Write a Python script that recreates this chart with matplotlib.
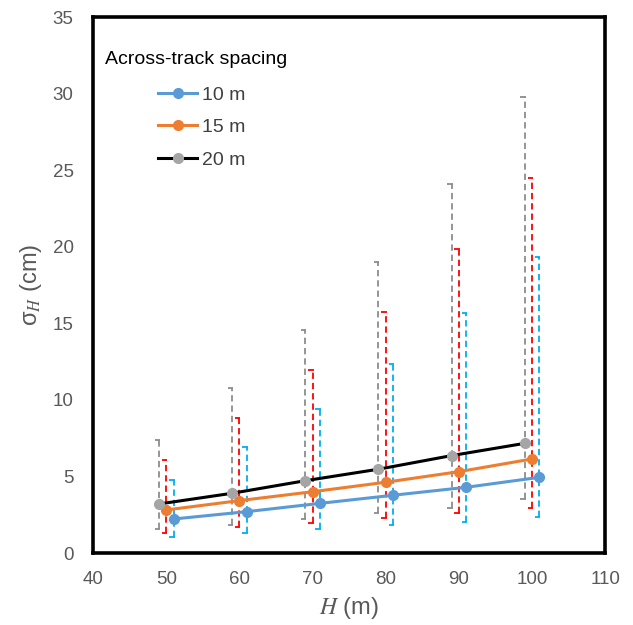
import matplotlib.pyplot as plt
import numpy as np

plt.rcParams["font.family"] = ["Liberation Sans", "DejaVu Sans"]
plt.rcParams["mathtext.fontset"] = "stix"

# flying height H (m), one offset per spacing so the bars don't overlap
heights = np.array([50, 60, 70, 80, 90, 100])
x_offsets = {"10 m": 1.0, "15 m": 0.0, "20 m": -1.0}

# mean sigma_H (cm)
sigma_10 = [2.22, 2.70, 3.24, 3.77, 4.29, 4.94]
sigma_15 = [2.81, 3.42, 4.00, 4.62, 5.31, 6.14]
sigma_20 = [3.20, 3.90, 4.72, 5.47, 6.36, 7.16]

# error bar range (cm)
low_10 = [1.07, 1.33, 1.55, 1.83, 2.05, 2.37]
high_10 = [4.77, 6.90, 9.43, 12.37, 15.70, 19.35]
low_15 = [1.33, 1.68, 1.94, 2.26, 2.59, 2.96]
high_15 = [6.07, 8.84, 11.95, 15.72, 19.86, 24.50]
low_20 = [1.55, 1.83, 2.24, 2.63, 2.96, 3.50]
high_20 = [7.38, 10.76, 14.57, 19.03, 24.10, 29.80]

series = [
    ("10 m", sigma_10, low_10, high_10, "#5B9BD5", "#5B9BD5", "#00B0F0"),
    ("15 m", sigma_15, low_15, high_15, "#ED7D31", "#ED7D31", "#FF0000"),
    ("20 m", sigma_20, low_20, high_20, "black", "#A5A5A5", "#8C8C8C"),
]

fig = plt.figure(figsize=(6.33, 6.25), dpi=100)
ax = fig.add_axes([0.147, 0.1152, 0.809, 0.8576])

for name, mean, low, high, line_col, marker_col, err_col in series:
    xs = heights + x_offsets[name]
    ax.vlines(xs, low, high, colors=err_col, linestyles=(0, (3.5, 2.2)), linewidth=1.3, zorder=2)
    # half caps pointing left, as in the original
    ax.hlines(low, xs - 0.6, xs + 0.15, colors=err_col, linewidth=1.3, zorder=2)
    ax.hlines(high, xs - 0.6, xs + 0.15, colors=err_col, linewidth=1.3, zorder=2)
    ax.plot(xs, mean, color=line_col, linewidth=2.2, marker="o", markersize=7,
            markerfacecolor=marker_col, markeredgecolor=marker_col, label=name, zorder=3)

ax.set_xlim(40, 110)
ax.set_ylim(0, 35)
ax.set_xticks(np.arange(40, 111, 10))
ax.set_yticks(np.arange(0, 36, 5))
ax.tick_params(length=0, labelsize=13.5, labelcolor="#595959")
ax.tick_params(axis="x", pad=13)
ax.tick_params(axis="y", pad=14)

for spine in ax.spines.values():
    spine.set_linewidth(2.6)
    spine.set_color("black")

ax.set_xlabel(r"$H$ (m)", fontsize=17, color="#595959", labelpad=5)
ax.set_ylabel(r"σ$_{H}$ (cm)", fontsize=17, color="#595959", labelpad=6)

ax.text(0.023, 0.92, "Across-track spacing", transform=ax.transAxes, fontsize=14,
        color="black", ha="left", va="center")
ax.legend(loc="upper left", bbox_to_anchor=(0.127, 0.871), frameon=False, fontsize=14,
          borderpad=0, borderaxespad=0, handlelength=2.0, handletextpad=0.25,
          labelspacing=0.76, labelcolor="#404040")

fig.savefig("out.png", dpi=100)
